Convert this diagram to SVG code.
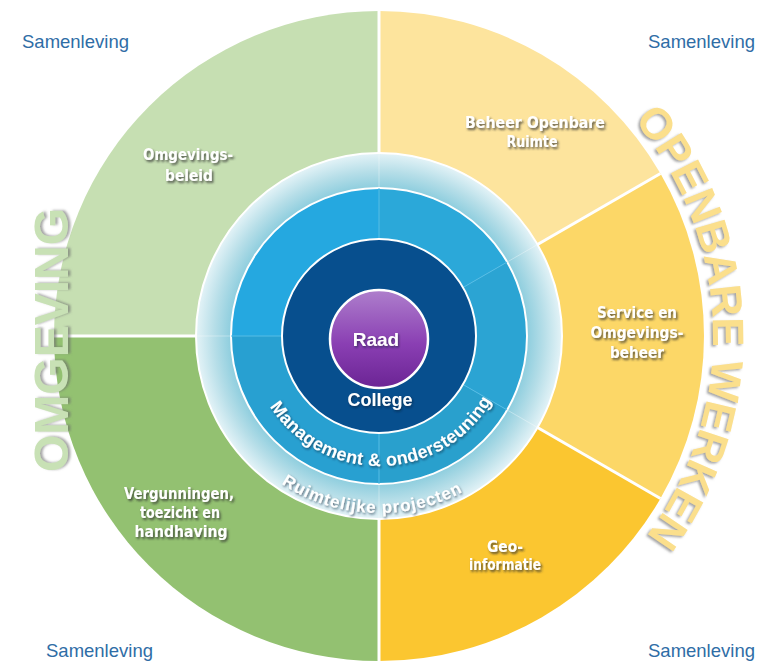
<svg xmlns="http://www.w3.org/2000/svg" width="758" height="664" viewBox="0 0 758 664">
  <defs>
    <radialGradient id="gRing" gradientUnits="userSpaceOnUse" cx="379" cy="336" r="183">
      <stop offset="0" stop-color="#6FBFD6"/>
      <stop offset="0.8" stop-color="#8ACCDD"/>
      <stop offset="0.9" stop-color="#B6DEE8"/>
      <stop offset="1" stop-color="#E4F3F7"/>
    </radialGradient>
    <linearGradient id="gRaad" x1="0" y1="0" x2="0" y2="1">
      <stop offset="0" stop-color="#AE7FCC"/>
      <stop offset="0.55" stop-color="#8A3FB3"/>
      <stop offset="1" stop-color="#6B2494"/>
    </linearGradient>
    <filter id="shLabel" x="-20%" y="-40%" width="140%" height="180%">
      <feDropShadow dx="1.5" dy="2" stdDeviation="1.2" flood-color="#2d2d2d" flood-opacity="0.75"/>
    </filter>
    <filter id="shSoft" x="-20%" y="-40%" width="140%" height="180%">
      <feDropShadow dx="1" dy="1.5" stdDeviation="1.2" flood-color="#123" flood-opacity="0.6"/>
    </filter>
    <filter id="shBigLocal" x="-10%" y="-30%" width="120%" height="160%">
      <feDropShadow dx="0.5" dy="2.5" stdDeviation="1.3" flood-color="#6a6a6a" flood-opacity="0.6"/>
    </filter>
    <filter id="shBigArc" x="-10%" y="-10%" width="120%" height="120%">
      <feDropShadow dx="-2" dy="1.5" stdDeviation="1.3" flood-color="#6a6a6a" flood-opacity="0.6"/>
    </filter>
    <path id="arcOpenbare" d="M 639.3 126.7 A 334 334 0 0 1 651.6 529" fill="none"/>
    <path id="arcManagement" d="M 268.75 404.9 A 130 130 0 0 0 492.7 399" fill="none"/>
    <path id="arcRuimtelijk" d="M 281.7 483.9 A 177 177 0 0 0 463 491.8" fill="none"/>
    <style>
      .sam { font-family: "Liberation Sans", Arial, sans-serif; font-size: 18.5px; fill: #2F6DA6; }
      .lbl { font-family: "DejaVu Sans", Verdana, sans-serif; font-weight: bold; font-size: 15px; fill: #ffffff; text-anchor: middle; }
      .big { font-family: "Liberation Sans", Arial, sans-serif; font-weight: bold; }
      .ring { font-family: "Liberation Sans", Arial, sans-serif; font-weight: bold; fill: #ffffff; }
      .div { stroke: #ffffff; stroke-width: 3; fill: none; }
      .faint { stroke: #ffffff; stroke-opacity: 0.35; stroke-width: 1; fill: none; }
    </style>
  </defs>

  <rect width="758" height="664" fill="#ffffff"/>

  <!-- outer sectors -->
  <g id="omgevingsbeleid">
    <path d="M379 336 L54 336 A325 325 0 0 1 379 11 Z" fill="#C6DFB2"/>
  </g>
  <g id="vergunningen">
    <path d="M379 336 L379 661 A325 325 0 0 1 54 336 Z" fill="#93C171"/>
  </g>
  <g id="beheer-openbare-ruimte">
    <path d="M379 336 L379 11 A325 325 0 0 1 660.46 173.5 Z" fill="#FDE49D"/>
  </g>
  <g id="service-omgevingsbeheer">
    <path d="M379 336 L660.46 173.5 A325 325 0 0 1 660.46 498.5 Z" fill="#FCD767"/>
  </g>
  <g id="geo-informatie">
    <path d="M379 336 L660.46 498.5 A325 325 0 0 1 379 661 Z" fill="#FBC630"/>
  </g>

  <!-- white borders between the sectors -->
  <g id="dividers">
    <line class="div" x1="379" y1="153" x2="379" y2="11"/>
    <line class="div" x1="379" y1="519" x2="379" y2="661"/>
    <line class="div" x1="196" y1="336" x2="54" y2="336"/>
    <line class="div" x1="537.5" y1="244.5" x2="660.46" y2="173.5"/>
    <line class="div" x1="537.5" y1="427.5" x2="660.46" y2="498.5"/>
  </g>

  <!-- ring: Ruimtelijke projecten -->
  <g id="ruimtelijke-projecten">
    <circle cx="379" cy="336" r="183" fill="url(#gRing)" stroke="#ffffff" stroke-width="2"/>
    <line class="faint" x1="379" y1="188" x2="379" y2="154"/>
    <line class="faint" x1="379" y1="484" x2="379" y2="518"/>
    <line class="faint" x1="231" y1="336" x2="197" y2="336"/>
    <line class="faint" x1="507.2" y1="262" x2="537" y2="244.8"/>
    <line class="faint" x1="507.2" y1="410" x2="537" y2="427.2"/>
    <text class="ring" font-size="17" letter-spacing="0.9" fill="#F4FAFC" filter="url(#shSoft)"><textPath href="#arcRuimtelijk" startOffset="50%" text-anchor="middle">Ruimtelijke projecten</textPath></text>
  </g>

  <!-- ring: Management & ondersteuning -->
  <g id="management">
    <path d="M379 336 L231 336 A148 148 0 0 1 379 188 Z" fill="#25A8E0"/>
    <path d="M379 336 L379 188 A148 148 0 0 1 507.17 262 Z" fill="#2BA8D9"/>
    <path d="M379 336 L507.17 262 A148 148 0 0 1 507.17 410 Z" fill="#2BA4D3"/>
    <path d="M379 336 L507.17 410 A148 148 0 0 1 379 484 Z" fill="#29A0CD"/>
    <path d="M379 336 L379 484 A148 148 0 0 1 231 336 Z" fill="#28A0D1"/>
    <circle cx="379" cy="336" r="148" fill="none" stroke="#ffffff" stroke-width="2"/>
    <g stroke="#57BDE6" stroke-width="1" fill="none">
      <line x1="379" y1="188" x2="379" y2="239"/>
      <line x1="379" y1="484" x2="379" y2="433"/>
      <line x1="231" y1="336" x2="282" y2="336"/>
      <line x1="507.2" y1="262" x2="463" y2="287.5"/>
      <line x1="507.2" y1="410" x2="463" y2="384.5"/>
    </g>
    <text class="ring" font-size="18" letter-spacing="0.3" filter="url(#shSoft)"><textPath href="#arcManagement" startOffset="50%" text-anchor="middle">Management &amp; ondersteuning</textPath></text>
  </g>

  <!-- ring: College -->
  <g id="college">
    <circle cx="379" cy="336" r="97" fill="#074F8E" stroke="#ffffff" stroke-width="2"/>
    <text class="ring" x="380" y="406" font-size="18" text-anchor="middle" filter="url(#shSoft)">College</text>
  </g>

  <!-- core: Raad -->
  <g id="raad">
    <circle cx="379" cy="339" r="49" fill="url(#gRaad)" stroke="#ffffff" stroke-width="2.5"/>
    <text class="ring" x="376" y="346" font-size="19" text-anchor="middle" filter="url(#shSoft)">Raad</text>
  </g>

  <!-- sector labels -->
  <g id="labels" filter="url(#shLabel)">
    <text class="lbl" x="188" y="160" textLength="90" lengthAdjust="spacingAndGlyphs">Omgevings-</text>
    <text class="lbl" x="189" y="181" textLength="48" lengthAdjust="spacingAndGlyphs">beleid</text>
    <text class="lbl" x="535" y="128" textLength="140" lengthAdjust="spacingAndGlyphs">Beheer Openbare</text>
    <text class="lbl" x="532" y="147" textLength="51" lengthAdjust="spacingAndGlyphs">Ruimte</text>
    <text class="lbl" x="637" y="318" textLength="80" lengthAdjust="spacingAndGlyphs">Service en</text>
    <text class="lbl" x="637" y="338" textLength="93" lengthAdjust="spacingAndGlyphs">Omgevings-</text>
    <text class="lbl" x="637" y="358" textLength="54" lengthAdjust="spacingAndGlyphs">beheer</text>
    <text class="lbl" x="179" y="499" textLength="110" lengthAdjust="spacingAndGlyphs">Vergunningen,</text>
    <text class="lbl" x="180" y="518" textLength="80" lengthAdjust="spacingAndGlyphs">toezicht en</text>
    <text class="lbl" x="181" y="537" textLength="93" lengthAdjust="spacingAndGlyphs">handhaving</text>
    <text class="lbl" x="505" y="552" textLength="36" lengthAdjust="spacingAndGlyphs">Geo-</text>
    <text class="lbl" x="505" y="570" textLength="72" lengthAdjust="spacingAndGlyphs">informatie</text>
  </g>

  <!-- domain titles -->
  <g id="omgeving-title">
    <text class="big" transform="translate(68 340) rotate(-90)" font-size="48" text-anchor="middle" fill="#C8E1B5" filter="url(#shBigLocal)">OMGEVING</text>
  </g>
  <g id="openbare-werken-title" filter="url(#shBigArc)">
    <text class="big" font-size="44" letter-spacing="-0.5" fill="#FBDF8C"><textPath href="#arcOpenbare" startOffset="50%" text-anchor="middle">OPENBARE WERKEN</textPath></text>
  </g>

  <!-- corner labels -->
  <g id="samenleving">
    <text class="sam" x="22" y="48">Samenleving</text>
    <text class="sam" x="648" y="48">Samenleving</text>
    <text class="sam" x="46" y="657">Samenleving</text>
    <text class="sam" x="648" y="657">Samenleving</text>
  </g>
</svg>
